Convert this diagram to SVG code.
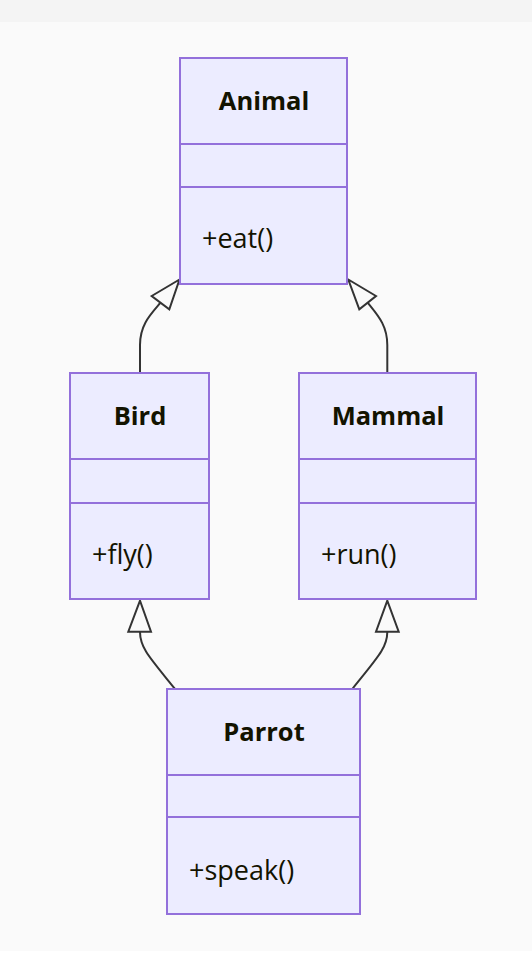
<svg xmlns="http://www.w3.org/2000/svg" width="532" height="963" viewBox="0 0 532 963">
<style>
.box{fill:#ECECFF;stroke:#9370DB;stroke-width:2}
.div{stroke:#9370DB;stroke-width:2}
.title{font-family:"Open Sans","DejaVu Sans",sans-serif;font-weight:bold;font-size:25.5px;fill:#131300;text-anchor:middle}
.meth{font-family:"Open Sans","DejaVu Sans",sans-serif;font-size:27px;fill:#131300}
.edge{fill:none;stroke:#333333;stroke-width:2}
.head{fill:#fafafa;stroke:#333333;stroke-width:2;stroke-linejoin:miter}
</style>
<rect x="0" y="0" width="532" height="963" fill="#ffffff"/>
<rect x="0" y="0" width="532" height="22" fill="#f4f4f4"/>
<rect x="0" y="22" width="532" height="929" fill="#fafafa"/>
<g id="connectors">
<path class="edge" d="M140,373 L140,345 C140,325 150,315 160.5,302.7"/>
<polygon class="head" points="179.5,279.5 151.7,296 169.3,309.3"/>
<path class="edge" d="M387.3,373 L387.3,345 C387.3,325 377.5,315 367.7,302.7"/>
<polygon class="head" points="348.3,279.5 376,296 359.3,309.3"/>
<path class="edge" d="M140,632 C140,648 150,658 175,689"/>
<polygon class="head" points="140,600.7 128.3,631.7 151,631.7"/>
<path class="edge" d="M387.3,632 C387.3,648 377,658 352.3,689"/>
<polygon class="head" points="387.3,600.7 376,631.7 398.7,631.7"/>
</g>
<g id="Animal">
<rect class="box" x="180" y="58" width="167" height="226"/>
<line class="div" x1="180" y1="144" x2="347" y2="144"/>
<line class="div" x1="180" y1="187" x2="347" y2="187"/>
<text class="title" x="264" y="110">Animal</text>
<text class="meth" x="202" y="248">+eat()</text>
</g>
<g id="Bird">
<rect class="box" x="70" y="373" width="139" height="226"/>
<line class="div" x1="70" y1="459" x2="209" y2="459"/>
<line class="div" x1="70" y1="503" x2="209" y2="503"/>
<text class="title" x="140" y="425">Bird</text>
<text class="meth" x="92" y="564">+fly()</text>
</g>
<g id="Mammal">
<rect class="box" x="299" y="373" width="177" height="226"/>
<line class="div" x1="299" y1="459" x2="476" y2="459"/>
<line class="div" x1="299" y1="503" x2="476" y2="503"/>
<text class="title" x="388" y="425">Mammal</text>
<text class="meth" x="321" y="564">+run()</text>
</g>
<g id="Parrot">
<rect class="box" x="167" y="689" width="193" height="225"/>
<line class="div" x1="167" y1="775" x2="360" y2="775"/>
<line class="div" x1="167" y1="817" x2="360" y2="817"/>
<text class="title" x="264" y="741">Parrot</text>
<text class="meth" x="189" y="880">+speak()</text>
</g>
</svg>
